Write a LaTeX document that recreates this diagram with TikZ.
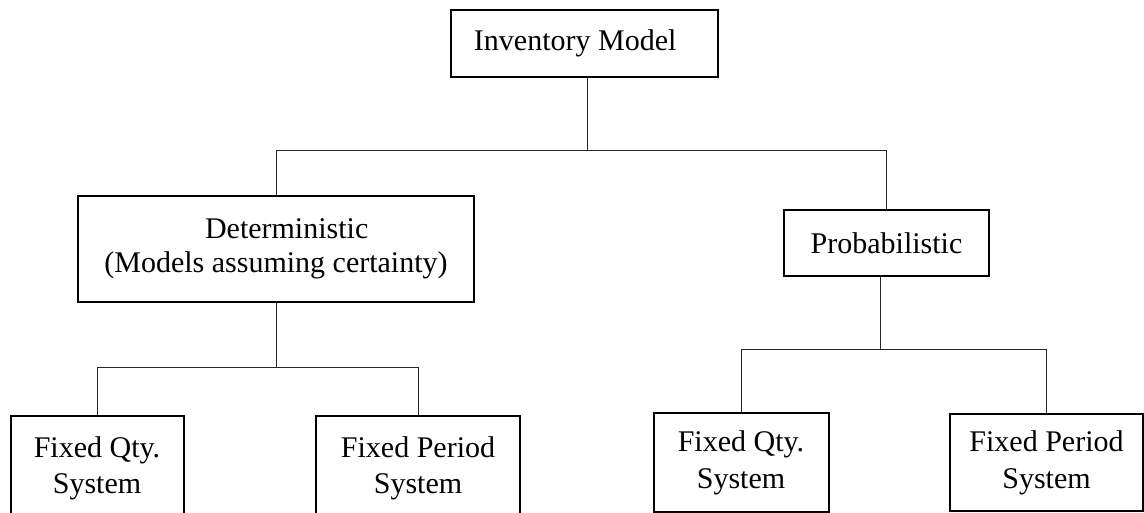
\documentclass[tikz,border=0pt]{standalone}
\usepackage{fontspec}
\setmainfont{Liberation Serif}
\tikzset{box/.style={draw,line width=1.5pt,align=center,font=\fontsize{22.5}{27}\selectfont},
link/.style={line width=0.7pt,draw=black!85}}

\begin{document}
\begin{tikzpicture}[x=0.75pt,y=-0.75pt]
\useasboundingbox (0,0) rectangle (1144,513);
\clip (0,0) rectangle (1144,513);

\node (inv) at (584.5,43.5) [box,minimum width=200pt,minimum height=50pt] {Inventory Model\hspace*{14pt}};

\node (det) at (276,249) [box,minimum width=297pt,minimum height=79.5pt,font=\fontsize{22.5}{25.5}\selectfont] {\hspace*{16pt}Deterministic\\(Models assuming certainty)};
\node (prob) at (886.5,243) [box,minimum width=153.75pt,minimum height=49.5pt] {Probabilistic};

\node (dfq) at (97,468) [box,minimum width=129.75pt,minimum height=78pt] {Fixed Qty.\\System};
\node (dfp) at (418,468) [box,minimum width=153pt,minimum height=78pt] {Fixed Period\\System};
\node (pfq) at (741,462.5) [box,minimum width=131.25pt,minimum height=74.25pt,font=\fontsize{22.5}{28}\selectfont] {Fixed Qty.\\System};
\node (pfp) at (1046.5,462.5) [box,minimum width=144.75pt,minimum height=72.75pt,font=\fontsize{22.5}{28}\selectfont] {Fixed Period\\System};

\coordinate (j1) at (587,150);
\coordinate (j2) at (276,367);
\coordinate (j3) at (880,349);

\draw [link] (inv.south -| j1) -- (j1);
\draw [link] (det) |- (j1);
\draw [link] (prob) |- (j1);
\draw [link] (det) -- (j2);
\draw [link] (dfq) |- (j2);
\draw [link] (dfp) |- (j2);
\draw [link] (prob.south -| j3) -- (j3);
\draw [link] (pfq) |- (j3);
\draw [link] (pfp) |- (j3);
\end{tikzpicture}
\end{document}
